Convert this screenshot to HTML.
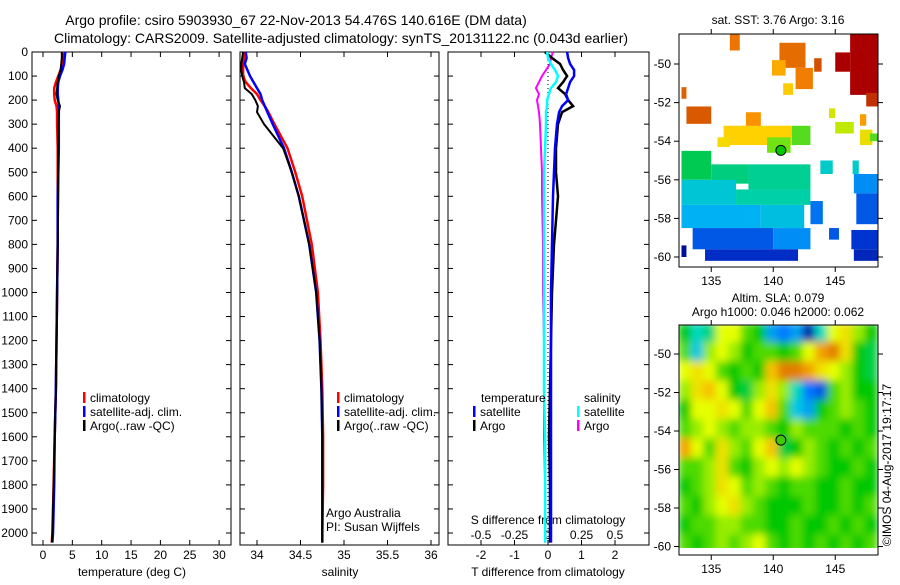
<!DOCTYPE html>
<html><head><meta charset="utf-8"><style>
body{margin:0;background:#fff;width:900px;height:580px;overflow:hidden}
svg text{font-family:"Liberation Sans",sans-serif;fill:#000}
</style></head><body>
<svg id="fig" width="900" height="580" viewBox="0 0 900 580" xmlns="http://www.w3.org/2000/svg">
<text x="296" y="25" font-size="14" text-anchor="middle">Argo profile: csiro 5903930_67 22-Nov-2013 54.476S 140.616E (DM data)</text>
<text x="341" y="43" font-size="14" text-anchor="middle">Climatology: CARS2009. Satellite-adjusted climatology: synTS_20131122.nc (0.043d earlier)</text>
<text x="778" y="24" font-size="12" text-anchor="middle">sat. SST: 3.76 Argo: 3.16</text>
<text x="778" y="302" font-size="12" text-anchor="middle">Altim. SLA: 0.079</text>
<text x="778" y="316" font-size="12" text-anchor="middle">Argo h1000: 0.046 h2000: 0.062</text>
<text transform="translate(891,465) rotate(-90)" font-size="12" text-anchor="middle">©IMOS 04-Aug-2017 19:17:17</text>
<g id="plots"></g>
</svg>
<script>
// ---- profile data ----
const depths=[0,25,50,75,100,125,150,175,200,225,250,300,400,500,600,800,1000,1200,1400,1600,1800,2000,2040];
const tClim=[3.5,3.4,3.3,3.0,2.6,2.2,1.9,1.9,2.0,2.3,2.4,2.4,2.5,2.5,2.5,2.5,2.4,2.3,2.2,2.0,1.8,1.6,1.5];
const tSat=[3.8,3.7,3.6,3.3,2.9,2.6,2.5,2.5,2.6,2.7,2.7,2.7,2.7,2.6,2.5,2.5,2.4,2.3,2.2,2.0,1.9,1.7,1.6];
const tArgo=[3.2,3.2,3.1,3.0,2.7,2.5,2.4,2.3,2.5,2.9,2.7,2.6,2.6,2.6,2.6,2.5,2.4,2.3,2.2,2.0,1.8,1.6,1.5];
const sClim=[33.86,33.85,33.84,33.84,33.84,33.87,33.93,34.0,34.04,34.09,34.13,34.2,34.35,34.44,34.52,34.63,34.7,34.73,34.75,34.76,34.76,34.75,34.75];
const sSat=[33.87,33.88,33.86,33.89,33.92,33.96,34.0,34.04,34.06,34.09,34.12,34.18,34.31,34.4,34.48,34.6,34.68,34.72,34.74,34.75,34.75,34.75,34.75];
const sArgo=[33.84,33.83,33.82,33.82,33.83,33.85,33.86,33.94,33.98,34.01,34.0,34.08,34.3,34.4,34.48,34.6,34.68,34.72,34.74,34.75,34.75,34.75,34.75];
const dTSat=[0.57,0.6,0.66,0.78,0.78,0.66,0.6,0.54,0.6,0.42,0.33,0.27,0.21,0.18,0.15,0.12,0.09,0.09,0.09,0.09,0.09,0.09,0.09];
const dTArgo=[-0.09,0.12,0.36,0.45,0.57,0.45,0.3,0.51,0.6,0.75,0.42,0.3,0.24,0.24,0.3,0.18,0.12,0.09,0.06,0.03,0.06,0.06,0.06];
const dSArgo=[0.037,0.022,0.015,-0.015,-0.045,-0.067,-0.09,-0.067,-0.082,-0.075,-0.067,-0.06,-0.052,-0.045,-0.045,-0.037,-0.037,-0.03,-0.03,-0.03,-0.022,-0.022,-0.022];
const dSSat=[-0.007,0,0.022,0.052,0.075,0.06,0.022,0.007,-0.007,-0.007,-0.015,-0.015,-0.022,-0.03,-0.03,-0.03,-0.03,-0.03,-0.03,-0.022,-0.022,-0.022,-0.022];
const depthTicks=[0,100,200,300,400,500,600,700,800,900,1000,1100,1200,1300,1400,1500,1600,1700,1800,1900,2000];
const tTicks=[0,5,10,15,20,25,30];
const sTicks=[34,34.5,35,35.5,36];
const sTickLabels=["34","34.5","35","35.5","36"];
const dtTicks=[-2,-1,0,1,2];
const dsTicks=[-0.5,-0.25,0,0.25,0.5];
const dsTickLabels=["-0.5","-0.25","0","0.25","0.5"];
// ---- map data ----
const slaLon0=132.4, slaLat0=-48.4;
const slaGrid=[
[0,-0.3,-0.2,0.3,0.3,0.1,0,-0.5,-0.6,-0.5,-0.9,-0.3,0.3,0.4,0.2,0],
[0.1,-0.4,0.2,0.3,0.2,0,0.1,0.1,0,0.1,0.3,0.6,0.7,0.4,0,-0.1],
[0.3,0.4,0.3,0.1,0,0.1,0,0.5,0.7,0.7,0.6,0.4,0.3,0.2,0,-0.1],
[0.2,0.4,0.5,0.3,0,-0.1,0.2,0.4,0.2,-0.3,-0.6,-0.7,0.1,0.2,0,0],
[0,0.3,0.3,0.4,0.3,0.1,0.3,0.5,0.1,-0.4,-0.5,0,0.1,0.2,0.1,0],
[0.1,0.2,0.3,0.2,0.1,0.2,0.2,0.1,0,0.2,0.1,0.1,0.1,0,0.1,0],
[0.6,0.3,0.1,0.4,0.2,0.1,0.3,0.5,-0.1,0,0.2,0.1,0,0.1,0,0.1],
[0.1,0.1,0.2,0.4,0.1,0,0.2,0.3,0.2,0.3,0.2,0.1,0,0,0.1,0],
[0,0.1,0.2,0.4,0.3,0.1,0.2,0.1,0,0.1,0.1,0,0,0.1,0,0],
[0.1,0,0.2,0.3,0.4,0.2,0.1,0,0,0,0.1,0,0,0.1,0,0.1],
[0,0.1,0.1,0.2,0.2,0.1,0.1,0,0,0.1,0,0,0.1,0,0.1,0],
[0.1,0,0.1,0.2,0.1,0.2,0.3,0.1,0,0.1,0,0.1,0,0.1,0,0.1]];
// SST patches: [lon0, lon1, latTop, latBottom, tempC]
const sstPatches=[
[146.2,149,-48.4,-51.6,10],[145,146.2,-49.4,-50.4,10],[147.5,148.5,-51.5,-52.2,8.5],
[140.5,142.6,-48.9,-50.2,7.2],[141.8,143.2,-50.2,-51.3,6.8],[139.9,141,-49.8,-50.6,6],[140.8,141.6,-51,-51.6,5.4],[143.3,143.9,-49.7,-50.4,7.8],
[136.5,137.3,-48.4,-49.3,7],[132.6,133,-51.2,-51.8,7.4],[133,135,-52.2,-53.1,7.6],
[137.8,139,-52.5,-53.3,6.4],[136,141.5,-53.2,-54.2,5.3],[135.5,136.5,-53.8,-54.3,5.1],[144.5,145,-52.3,-52.8,4.8],[147,147.5,-52.6,-53.2,6.2],[147,148,-53.4,-54.2,5.0],
[141.5,143,-53.2,-54.2,4.1],[145,146.5,-53,-53.6,4.6],[147.8,149,-53.6,-54,4.1],[139.5,141.4,-53.8,-54.6,4.2],
[132.6,135,-54.5,-56,3.7],[135,138,-55.2,-56.2,3.5],[138,143,-55.2,-56.5,3.4],[143.8,144.8,-55,-55.7,3.1],[146.4,146.9,-55,-55.7,3.1],
[132.6,137,-56,-57.3,3.0],[137,143,-56.5,-57.3,3.3],[146.5,149,-55.7,-56.7,2.4],
[132.6,139,-57.3,-58.5,2.7],[139,142.5,-57.3,-58.5,2.9],[143,144,-57.1,-58.3,2.2],[146.7,148.7,-56.7,-58.3,2.0],
[133.5,140,-58.5,-59.6,2.0],[140,143,-58.5,-59.6,2.4],[144.5,145.3,-58.5,-59.1,2.0],[146.3,149,-58.6,-59.6,1.7],
[134.5,142,-59.6,-60.2,1.6],[132.6,133,-59.4,-60,1.2],[146.5,148.5,-59.6,-60.2,1.5]];
const argoLon=140.616, argoLat=-54.476;
const mapXTicks=[135,140,145];
const mapYTicks=[-50,-52,-54,-56,-58,-60];

const NS='http://www.w3.org/2000/svg';
const root=document.getElementById('plots');
function mk(tag,attrs,parent){const e=document.createElementNS(NS,tag);for(const k in attrs)e.setAttribute(k,attrs[k]);(parent||root).appendChild(e);return e;}
function txt(s,x,y,size,anchor,parent){const t=mk('text',{x:x,y:y,'font-size':size,'text-anchor':anchor||'middle'},parent);t.textContent=s;return t;}

const yTop=52, bot=545;
const yD=d=>yTop+d*0.2405;
const panels=[
 {x0:32,x1:231,lin:v=>43+v*5.87,name:'temperature-panel'},
 {x0:240,x1:439,lin:v=>257+(v-34)*87,name:'salinity-panel'},
 {x0:448,x1:649,lin:v=>548+v*33.5,name:'t-diff-panel'}];
const xDS=v=>548+v*134;

function line(xs,ys,col,w,name,parent){
  const g=mk('polyline',{points:xs.map((v,i)=>xs[i].toFixed(1)+','+yD(ys[i]).toFixed(1)).join(' '),fill:'none',stroke:col,'stroke-width':w},parent);
  
  
}
panels.forEach((p,pi)=>{
  const g=mk('g',{});
  
  
  const fr=mk('rect',{x:p.x0,y:yTop,width:p.x1-p.x0,height:bot-yTop,fill:'none',stroke:'#000','stroke-width':1},g);
  
  
  depthTicks.forEach(d=>{
    mk('line',{x1:p.x0,x2:p.x0+5,y1:yD(d),y2:yD(d),stroke:'#000'},g);
    mk('line',{x1:p.x1,x2:p.x1-5,y1:yD(d),y2:yD(d),stroke:'#000'},g);
  });
});
depthTicks.forEach(d=>{const t=txt(String(d),28,yD(d)+4,12,'end');
  
  });
function xticks(p,vals,labels,ly){
  vals.forEach((v,i)=>{const x=p.lin(v);
    mk('line',{x1:x,x2:x,y1:bot,y2:bot-5,stroke:'#000'});
    mk('line',{x1:x,x2:x,y1:yTop,y2:yTop+5,stroke:'#000'});
    const t=txt(labels[i],x,ly,12);
    
    });
}
xticks(panels[0],tTicks,tTicks.map(String),559);
xticks(panels[1],sTicks,sTickLabels,559);
xticks(panels[2],dtTicks,dtTicks.map(String),559);
dsTicks.forEach((v,i)=>{const x=xDS(v);
  mk('line',{x1:x,x2:x,y1:bot,y2:bot-5,stroke:'#000'});
  const t=txt(dsTickLabels[i],x,539,12);
  
  });
[['temperature (deg C)',132],['salinity',340],['T difference from climatology',548]].forEach(a=>{
  const t=txt(a[0],a[1],576,12);
  
  });
{const t=txt('S difference from climatology',548,524,12);
 
 }
mk('line',{x1:548,x2:548,y1:yTop,y2:bot,stroke:'#000','stroke-dasharray':'1,3'});
const P0=panels[0],P1=panels[1],P2=panels[2];
line(tClim.map(P0.lin),depths,'#f00',2.5,'temp-climatology-line');
line(tSat.map(P0.lin),depths,'#00f',2.5,'temp-satellite-line');
line(tArgo.map(P0.lin),depths,'#000',2,'temp-argo-line');
line(sClim.map(P1.lin),depths,'#f00',2.5,'sal-climatology-line');
line(sSat.map(P1.lin),depths,'#00f',2.5,'sal-satellite-line');
line(sArgo.map(P1.lin),depths,'#000',2,'sal-argo-line');
line(dSArgo.map(xDS),depths,'#f0f',2,'s-diff-argo-line');
line(dTArgo.map(P2.lin),depths,'#000',2.5,'t-diff-argo-line');
line(dTSat.map(P2.lin),depths,'#00f',2.5,'t-diff-satellite-line');
line(dSSat.map(xDS),depths,'#0ff',2.5,'s-diff-satellite-line');
function leg(x,y,col,label){const g=mk('g',{});
  
  
  mk('rect',{x:x,y:y-10,width:2.5,height:11,fill:col},g);
  txt(label,x+7,y,12,'start',g);}
[[83,'climatology','#f00',402],[83,'satellite-adj. clim.','#00f',416],[83,'Argo(..raw -QC)','#000',430]].forEach(a=>leg(a[0],a[3],a[2],a[1]));
[[337,'climatology','#f00',402],[337,'satellite-adj. clim.','#00f',416],[337,'Argo(..raw -QC)','#000',430]].forEach(a=>leg(a[0],a[3],a[2],a[1]));
leg(473,416,'#00f','satellite');leg(473,430,'#000','Argo');
leg(577,416,'#0ff','satellite');leg(577,430,'#f0f','Argo');
txt('temperature',481,402,12,'start');txt('salinity',584,402,12,'start');
txt('Argo Australia',326,517,12,'start');txt('PI: Susan Wijffels',326,531,12,'start');

function cmapSLA(v){const s=[[-1,[0,0,140]],[-0.6,[0,120,255]],[-0.35,[0,220,220]],[0,[0,200,0]],[0.3,[230,255,0]],[0.55,[250,180,0]],[0.8,[210,90,0]],[1,[170,0,0]]];
  return interp(s,v);}
function cmapSST(v){const s=[[1,[0,0,130]],[1.8,[0,60,220]],[2.6,[0,170,255]],[3.2,[0,210,190]],[3.8,[0,200,60]],[4.4,[170,240,0]],[5.2,[255,215,0]],[6.5,[250,140,0]],[7.8,[210,80,0]],[9.5,[170,0,0]]];
  return interp(s,v);}
function interp(s,v){if(v<=s[0][0])return 'rgb('+s[0][1]+')';for(let i=1;i<s.length;i++){if(v<=s[i][0]){const f=(v-s[i-1][0])/(s[i][0]-s[i-1][0]);const c=s[i-1][1].map((a,k)=>Math.round(a+(s[i][1][k]-a)*f));return 'rgb('+c+')';}}return 'rgb('+s[s.length-1][1]+')';}
function mapAxes(m){
  const g=mk('g',{});
  
  
  return g;
}
function drawFrame(m,g){
  const fr=mk('rect',{x:679,y:m.fy0,width:199,height:m.fy1-m.fy0,fill:'none',stroke:'#000'},g);
  
  
  mapXTicks.forEach(v=>{const x=m.xl(v);
    mk('line',{x1:x,x2:x,y1:m.fy1,y2:m.fy1+5,stroke:'#000'},g);
    mk('line',{x1:x,x2:x,y1:m.fy0,y2:m.fy0-5,stroke:'#000'},g);
    const t=txt(String(v),x,m.fy1+18,12,'middle',g);
    
    });
  mapYTicks.forEach(v=>{const y=m.yl(v);
    mk('line',{x1:679,x2:674,y1:y,y2:y,stroke:'#000'},g);
    mk('line',{x1:878,x2:883,y1:y,y2:y,stroke:'#000'},g);
    const t=txt(String(v),671,y+4,12,'end',g);
    
    });
  const c=mk('circle',{cx:m.xl(argoLon),cy:m.yl(argoLat),r:5,fill:m.dot,stroke:'#000'},g);
  
  
}
const xl=v=>679+(v-132.4)*12.4;
const mS={name:'sst-map',fy0:34,fy1:267,xl:xl,yl:v=>64+(-50-v)*19.3,dot:'#00c800'};
const gS=mapAxes(mS);
const defsS=mk('defs',{},gS);
const cpS=mk('clipPath',{id:'clS'},defsS);
mk('rect',{x:679,y:34,width:199,height:233},cpS);
const gSc=mk('g',{'clip-path':'url(#clS)'},gS);
sstPatches.forEach(p=>{const r=mk('rect',{x:mS.xl(p[0]),y:mS.yl(p[2]),width:(p[1]-p[0])*12.4,height:(p[2]-p[3])*19.3,fill:cmapSST(p[4])},gSc);
  
  });
drawFrame(mS,gS);
const mL={name:'sla-map',fy0:325,fy1:555,xl:xl,yl:v=>354+(-50-v)*19.25,dot:'#40c800'};
const gL=mapAxes(mL);
const defs=mk('defs',{},gL);
const flt=mk('filter',{id:'bl',x:'0',y:'0',width:'1',height:'1'},defs);
mk('feGaussianBlur',{stdDeviation:'4',edgeMode:'duplicate'},flt);
const cp=mk('clipPath',{id:'cl'},defs);
mk('rect',{x:679,y:325,width:199,height:223},cp);
const gc=mk('g',{'clip-path':'url(#cl)'},gL);
const gb=mk('g',{filter:'url(#bl)'},gc);
slaGrid.forEach((row,ri)=>row.forEach((v,ci)=>{
  const y0=mL.yl(slaLat0-ri), y1=mL.yl(slaLat0-ri-1);
  const r=mk('rect',{x:mL.xl(slaLon0+ci)-0.5,y:y0-0.5,width:12.4+1,height:y1-y0+1,fill:cmapSLA(v)},gb);
  
  
}));
drawFrame(mL,gL);
</script>
</body></html>
